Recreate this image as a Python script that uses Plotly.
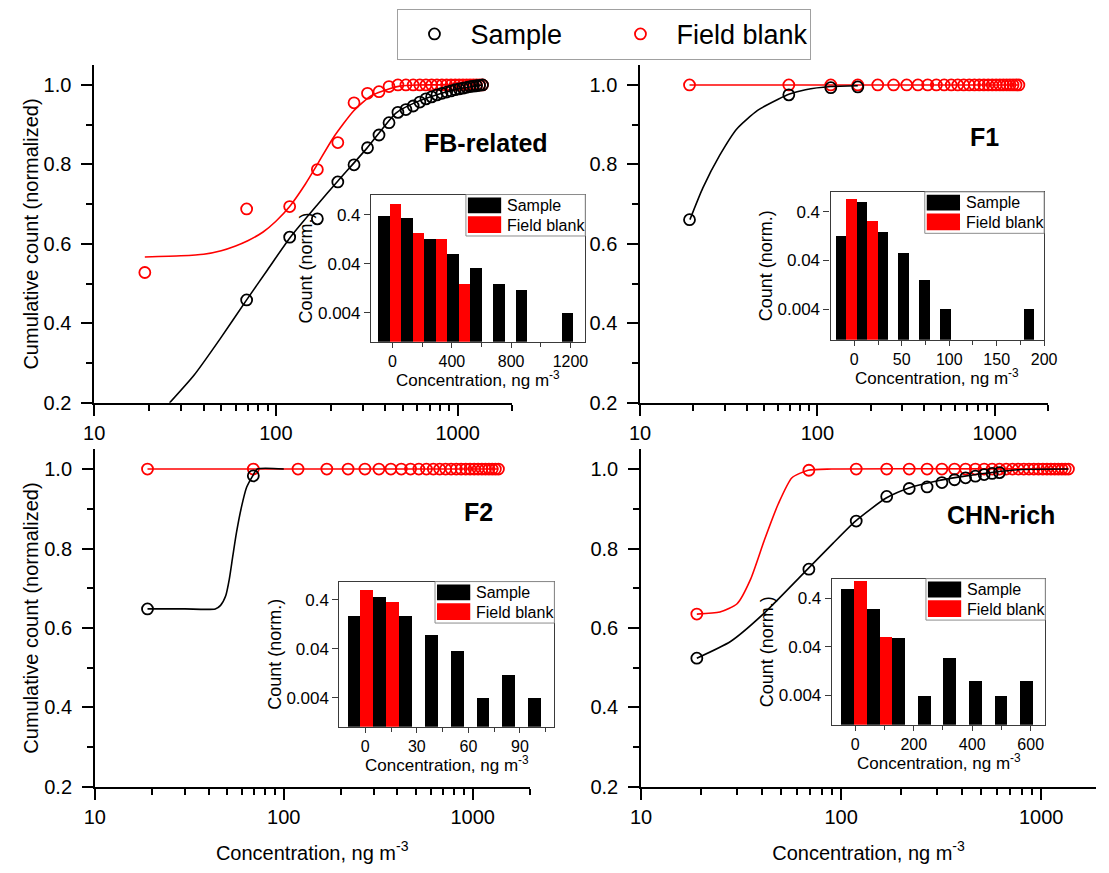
import math
import plotly.graph_objects as go

W, H = 1109, 873
FONT = "Liberation Sans, Arial, sans-serif"
RED = "#FF0000"
BLACK = "#000000"

# ---------------- data ----------------
conc_grid = [19, 69, 119, 169, 219, 269, 319, 369, 419, 469, 519, 569, 619, 669,
             719, 769, 819, 869, 919, 969, 1019, 1069, 1119, 1169, 1219, 1269, 1319, 1369]

# FB-related
fb_sample_x = [69, 119, 169, 219, 269, 319, 369, 419, 469, 519, 569, 619, 669, 719,
               769, 819, 869, 919, 969, 1019, 1069, 1119, 1169, 1219, 1269, 1319, 1369]
fb_sample_y = [0.459, 0.617, 0.663, 0.756, 0.799, 0.842, 0.874, 0.905, 0.931, 0.938,
               0.947, 0.957, 0.965, 0.970, 0.975, 0.979, 0.982, 0.985, 0.988, 0.990,
               0.992, 0.994, 0.996, 0.997, 0.998, 0.999, 1.0]
fb_blank_y = [0.528, 0.688, 0.694, 0.787, 0.855, 0.955, 0.979, 0.983, 0.996, 1.0,
              1.0, 1.0, 1.0, 1.0, 1.0, 1.0, 1.0, 1.0, 1.0, 1.0,
              1.0, 1.0, 1.0, 1.0, 1.0, 1.0, 1.0, 1.0]
fb_sample_fit_x = [26, 35.5, 49.3, 68.7, 90, 120, 170, 218, 317, 459, 600, 800, 1000, 1371]
fb_sample_fit_y = [0.2, 0.270, 0.361, 0.458, 0.535, 0.617, 0.700, 0.757, 0.841, 0.930, 0.958, 0.978, 0.990, 1.0]
fb_blank_fit_x = [19, 30, 40, 50, 60, 70, 85, 100, 119, 145, 169, 206, 268, 335, 418, 480, 600, 1000, 1371]
fb_blank_fit_y = [0.567, 0.570, 0.574, 0.583, 0.595, 0.608, 0.630, 0.657, 0.694, 0.750,
                  0.800, 0.866, 0.935, 0.973, 0.990, 0.997, 1.0, 1.0, 1.0]

# F1
f1_sample_x = [19, 69, 119, 169]
f1_sample_y = [0.661, 0.975, 0.993, 0.995]
f1_blank_y = [1.0, 1.0, 1.0, 1.0, 1.0, 1.0, 1.0, 1.0, 1.0, 1.0, 1.0, 1.0, 1.0, 1.0,
              1.0, 1.0, 1.0, 1.0, 1.0, 1.0, 1.0, 1.0, 1.0, 1.0, 1.0, 1.0, 1.0, 1.0]
f1_sample_fit_x = [19.1, 22.6, 28.2, 35.2, 46, 60.1, 69.6, 85.7, 118.6, 169]
f1_sample_fit_y = [0.661, 0.741, 0.824, 0.890, 0.936, 0.964, 0.977, 0.988, 0.996, 0.998]
f1_blank_fit_x = [19, 1369]
f1_blank_fit_y = [1.0, 1.0]

# F2
f2_sample_x = [19, 69]
f2_sample_y = [0.648, 0.983]
f2_blank_y = [1.0, 1.0, 1.0, 1.0, 1.0, 1.0, 1.0, 1.0, 1.0, 1.0, 1.0, 1.0, 1.0, 1.0,
              1.0, 1.0, 1.0, 1.0, 1.0, 1.0, 1.0, 1.0, 1.0, 1.0, 1.0, 1.0, 1.0, 1.0]
f2_sample_fit_x = [19, 30, 43.4, 46.3, 49.3, 51.5, 53.7, 56.1, 59.7, 63.6, 68.5, 72.4, 100]
f2_sample_fit_y = [0.648, 0.648, 0.648, 0.657, 0.681, 0.723, 0.780, 0.838, 0.904, 0.954, 0.983, 1.0, 1.0]
f2_blank_fit_x = [19, 1369]
f2_blank_fit_y = [1.0, 1.0]

# CHN-rich
chn_sample_x = [19, 69, 119, 169, 219, 269, 319, 369, 419, 469, 519, 569, 619]
chn_sample_y = [0.524, 0.748, 0.869, 0.931, 0.951, 0.955, 0.966, 0.973, 0.978, 0.982, 0.986, 0.989, 0.991]
chn_blank_y = [0.635, 0.997, 1.0, 1.0, 1.0, 1.0, 1.0, 1.0, 1.0, 1.0, 1.0, 1.0, 1.0, 1.0,
               1.0, 1.0, 1.0, 1.0, 1.0, 1.0, 1.0, 1.0, 1.0, 1.0, 1.0, 1.0, 1.0, 1.0]
chn_sample_fit_x = [19, 28, 41, 68, 91, 118, 168, 220, 300, 400, 500, 650, 800, 1369]
chn_sample_fit_y = [0.524, 0.566, 0.636, 0.748, 0.813, 0.869, 0.927, 0.953, 0.970, 0.981, 0.988, 0.995, 0.999, 1.0]
chn_blank_fit_x = [19, 24.8, 30.2, 35.3, 41.4, 48.5, 56.8, 68.4, 90, 1369]
chn_blank_fit_y = [0.635, 0.640, 0.661, 0.723, 0.822, 0.912, 0.978, 0.997, 1.0, 1.0]

# Inset histograms (bin centres, normalized counts)
h1_sample_x = [-18, 137, 292, 446, 601, 756, 910, 1219]
h1_sample_y = [0.39, 0.35, 0.13, 0.066, 0.033, 0.016, 0.012, 0.004]
h1_blank_x = [-18, 137, 292, 446]
h1_blank_y = [0.67, 0.17, 0.13, 0.016]

h2_sample_x = [-9, 13, 35, 57, 79, 101, 189]
h2_sample_y = [0.127, 0.64, 0.153, 0.058, 0.016, 0.004, 0.004]
h2_blank_x = [-9, 13]
h2_blank_y = [0.74, 0.26]

h3_sample_x = [-2.5, 12.5, 27.5, 42.5, 57.5, 72.5, 87.5, 102.5]
h3_sample_y = [0.193, 0.47, 0.193, 0.078, 0.0366, 0.004, 0.012, 0.004]
h3_blank_x = [-2.5, 12.5]
h3_blank_y = [0.635, 0.366]

h4_sample_x = [-5, 82.5, 170, 257.5, 345, 432.5, 520, 607.5]
h4_sample_y = [0.65, 0.25, 0.0614, 0.004, 0.0245, 0.008, 0.004, 0.008]
h4_blank_x = [-5, 82.5]
h4_blank_y = [0.946, 0.0665]

panel_labels = ["FB-related", "F1", "F2", "CHN-rich"]
main_xticks = [10, 100, 1000]
main_xminor = [20, 30, 40, 50, 60, 70, 80, 90, 200, 300, 400, 500, 600, 700, 800, 900, 2000]
main_yticks = [0.2, 0.4, 0.6, 0.8, 1.0]
main_yminor = [0.3, 0.5, 0.7, 0.9]
count_ticks = [0.004, 0.04, 0.4]
conc_title = "Concentration, ng m<sup>-3</sup>"
cum_title = "Cumulative count (normalized)"
count_title = "Count (norm.)"

# ---------------- helpers (pixel -> paper) ----------------
def px(x):
    return x / W

def py(y):
    return 1 - y / H

fig = go.Figure()

panels = [
    (fb_sample_x, fb_sample_y, conc_grid, fb_blank_y, fb_sample_fit_x, fb_sample_fit_y, fb_blank_fit_x, fb_blank_fit_y),
    (f1_sample_x, f1_sample_y, conc_grid, f1_blank_y, f1_sample_fit_x, f1_sample_fit_y, f1_blank_fit_x, f1_blank_fit_y),
    (f2_sample_x, f2_sample_y, conc_grid, f2_blank_y, f2_sample_fit_x, f2_sample_fit_y, f2_blank_fit_x, f2_blank_fit_y),
    (chn_sample_x, chn_sample_y, conc_grid, chn_blank_y, chn_sample_fit_x, chn_sample_fit_y, chn_blank_fit_x, chn_blank_fit_y),
]

marker_black = dict(symbol="circle-open", size=11, color=BLACK, line=dict(width=1.8, color=BLACK))
marker_red = dict(symbol="circle-open", size=11, color=RED, line=dict(width=1.8, color=RED))

for i, (sx, sy, bx, by, sfx, sfy, bfx, bfy) in enumerate(panels):
    ax = "" if i == 0 else str(i + 1)
    xa, ya = "x" + ax, "y" + ax
    fig.add_trace(go.Scatter(x=bfx, y=bfy, mode="lines", xaxis=xa, yaxis=ya,
                             line=dict(color=RED, width=1.6, shape="spline", smoothing=0.6),
                             showlegend=False, hoverinfo="skip"))
    fig.add_trace(go.Scatter(x=bx, y=by, mode="markers", xaxis=xa, yaxis=ya,
                             marker=marker_red, name="Field blank", legendrank=2,
                             showlegend=(i == 0)))
    fig.add_trace(go.Scatter(x=sfx, y=sfy, mode="lines", xaxis=xa, yaxis=ya,
                             line=dict(color=BLACK, width=1.6, shape="spline", smoothing=0.6),
                             showlegend=False, hoverinfo="skip"))
    fig.add_trace(go.Scatter(x=sx, y=sy, mode="markers", xaxis=xa, yaxis=ya,
                             marker=marker_black, name="Sample", legendrank=1,
                             showlegend=(i == 0)))

hists = [
    (h1_sample_x, h1_sample_y, h1_blank_x, h1_blank_y),
    (h2_sample_x, h2_sample_y, h2_blank_x, h2_blank_y),
    (h3_sample_x, h3_sample_y, h3_blank_x, h3_blank_y),
    (h4_sample_x, h4_sample_y, h4_blank_x, h4_blank_y),
]
for j, (sx, sy, bx, by) in enumerate(hists):
    n = str(j + 5)
    fig.add_trace(go.Bar(x=sx, y=sy, xaxis="x" + n, yaxis="y" + n, marker=dict(color=BLACK, line=dict(width=0)),
                         showlegend=False, name="Sample"))
    fig.add_trace(go.Bar(x=bx, y=by, xaxis="x" + n, yaxis="y" + n, marker=dict(color=RED, line=dict(width=0)),
                         showlegend=False, name="Field blank"))

# ---------------- axes ----------------
main_px = [  # x0, x1, ytop(1.05), ybottom(0.2), xmax
    (85, 512.5, 65.9, 408, 2000),
    (643, 1060, 65.9, 408, 2000),
    (85.7, 530, 454.9, 797, 2000),
    (644, 1109, 454.9, 797, 1880),
]
layout = {}
title_font = dict(family=FONT, size=20, color=BLACK)
tick_font = dict(family=FONT, size=20, color=BLACK)
for i, (x0, x1, yt, yb, xmax) in enumerate(main_px):
    k = "" if i == 0 else str(i + 1)
    xax = dict(
        type="log", domain=[px(x0), px(x1)], anchor="y" + k, range=[1, math.log10(xmax)],
        showline=True, linecolor=BLACK, linewidth=1.6, ticks="outside", ticklen=11, tickwidth=1.6,
        tickcolor=BLACK, tickvals=main_xticks, ticktext=[str(v) for v in main_xticks],
        showgrid=False, zeroline=False, tickfont=tick_font,
        minor=dict(tickvals=main_xminor, ticks="outside", ticklen=6, tickwidth=1.6, tickcolor=BLACK, showgrid=False),
    )
    if i >= 2:
        xax["title"] = dict(text=conc_title, font=title_font, standoff=19)
    yax = dict(
        domain=[py(yb), py(yt)], anchor="x" + k, range=[0.2, 1.05],
        showline=True, linecolor=BLACK, linewidth=1.6, ticks="outside", ticklen=11, tickwidth=1.6,
        tickcolor=BLACK, tickvals=main_yticks, ticktext=["%.1f" % v for v in main_yticks],
        showgrid=False, zeroline=False, tickfont=tick_font, ticklabelstandoff=6,
        minor=dict(tickvals=main_yminor, ticks="outside", ticklen=6, tickwidth=1.6, tickcolor=BLACK, showgrid=False),
    )
    if i in (0, 2):
        yax["title"] = dict(text=cum_title, font=title_font, standoff=0)
    layout["xaxis" + k] = xax
    layout["yaxis" + k] = yax

inset_px = [  # x0, x1, ytop, ybottom, xrange, yrange(log), major, minor
    (368, 587, 197, 346, [-145, 1300], [-2.99, 0.016], [0, 400, 800, 1200], [200, 600, 1000]),
    (837.7, 1056, 194.3, 344, [-25, 200], [-3.02, 0.006], [0, 50, 100, 150, 200], [25, 75, 125, 175]),
    (335.7, 555.4, 589, 736, [-15, 110], [-2.99, -0.03], [0, 30, 60, 90], [15, 45, 75, 105]),
    (839, 1057.2, 586, 734, [-80, 650], [-3.0, 0.01], [0, 200, 400, 600], [100, 300, 500]),
]
FRAME = "#3a3a3a"
shapes = []
annotations = []
for j, (x0, x1, yt, yb, xr, yr, major, minor) in enumerate(inset_px):
    k = str(j + 5)
    layout["xaxis" + k] = dict(
        domain=[px(x0), px(x1)], anchor="y" + k, range=xr,
        showline=True, mirror=True, linecolor=FRAME, linewidth=1.2, ticks="outside", ticklen=5, tickwidth=1.2,
        tickcolor=FRAME, tickvals=major, showgrid=False, zeroline=False,
        tickfont=dict(family=FONT, size=16, color=BLACK),
        minor=dict(tickvals=minor, ticks="outside", ticklen=4, tickwidth=1.2, tickcolor=FRAME, showgrid=False),
    )
    layout["yaxis" + k] = dict(
        type="log", domain=[py(yb), py(yt)], anchor="x" + k, range=yr,
        showline=True, mirror=True, linecolor=FRAME, linewidth=1.2, ticks="outside", ticklen=6, tickwidth=1.2,
        tickcolor=FRAME, tickvals=count_ticks, ticktext=[str(v) for v in count_ticks],
        showgrid=False, zeroline=False, tickfont=dict(family=FONT, size=17, color=BLACK),
        title=dict(text=count_title, font=dict(family=FONT, size=18, color=BLACK), standoff=0),
    )
    # inset x-axis title
    annotations.append(dict(text=conc_title, xref="paper", yref="paper", x=px((x0 + x1) / 2), y=py(yb + 38),
                            xanchor="center", yanchor="middle", showarrow=False,
                            font=dict(family=FONT, size=17, color=BLACK)))
    # inset legend box
    bx0, by0 = x1 - 122, yt
    shapes.append(dict(type="rect", xref="paper", yref="paper", x0=px(bx0), x1=px(x1), y0=py(by0 + 42), y1=py(by0),
                       line=dict(color="#8c8c8c", width=1), fillcolor="white", layer="above"))
    shapes.append(dict(type="rect", xref="paper", yref="paper", x0=px(bx0 + 2), x1=px(bx0 + 36), y0=py(by0 + 19), y1=py(by0 + 3),
                       line=dict(width=0), fillcolor=BLACK, layer="above"))
    shapes.append(dict(type="rect", xref="paper", yref="paper", x0=px(bx0 + 2), x1=px(bx0 + 36), y0=py(by0 + 39), y1=py(by0 + 22),
                       line=dict(width=0), fillcolor=RED, layer="above"))
    annotations.append(dict(text="Sample", xref="paper", yref="paper", x=px(bx0 + 40), y=py(by0 + 11),
                            xanchor="left", yanchor="middle", showarrow=False, font=dict(family=FONT, size=16, color=BLACK)))
    annotations.append(dict(text="Field blank", xref="paper", yref="paper", x=px(bx0 + 40), y=py(by0 + 31),
                            xanchor="left", yanchor="middle", showarrow=False, font=dict(family=FONT, size=16, color=BLACK)))

label_pos = [(485, 145), (995, 139), (478, 519), (1012, 522)]
for txt, (lx, ly) in zip(panel_labels, label_pos):
    annotations.append(dict(text="<b>%s</b>" % txt, xref="paper", yref="paper", x=px(lx), y=py(ly),
                            xanchor="center", yanchor="middle", showarrow=False,
                            font=dict(family=FONT, size=25, color=BLACK)))

fig.update_layout(
    width=W, height=H, margin=dict(l=0, r=0, t=0, b=0),
    paper_bgcolor="white", plot_bgcolor="white",
    barmode="group", bargap=0, bargroupgap=0,
    font=dict(family=FONT, color=BLACK),
    shapes=shapes, annotations=annotations,
    legend=dict(orientation="h", x=px(395), y=py(9), xanchor="left", yanchor="top",
                bordercolor="#a0a0a0", borderwidth=1, bgcolor="white",
                font=dict(family=FONT, size=27, color=BLACK), entrywidth=129, itemwidth=62,
                traceorder="normal"),
    **layout,
)

fig.write_html("out.html")
